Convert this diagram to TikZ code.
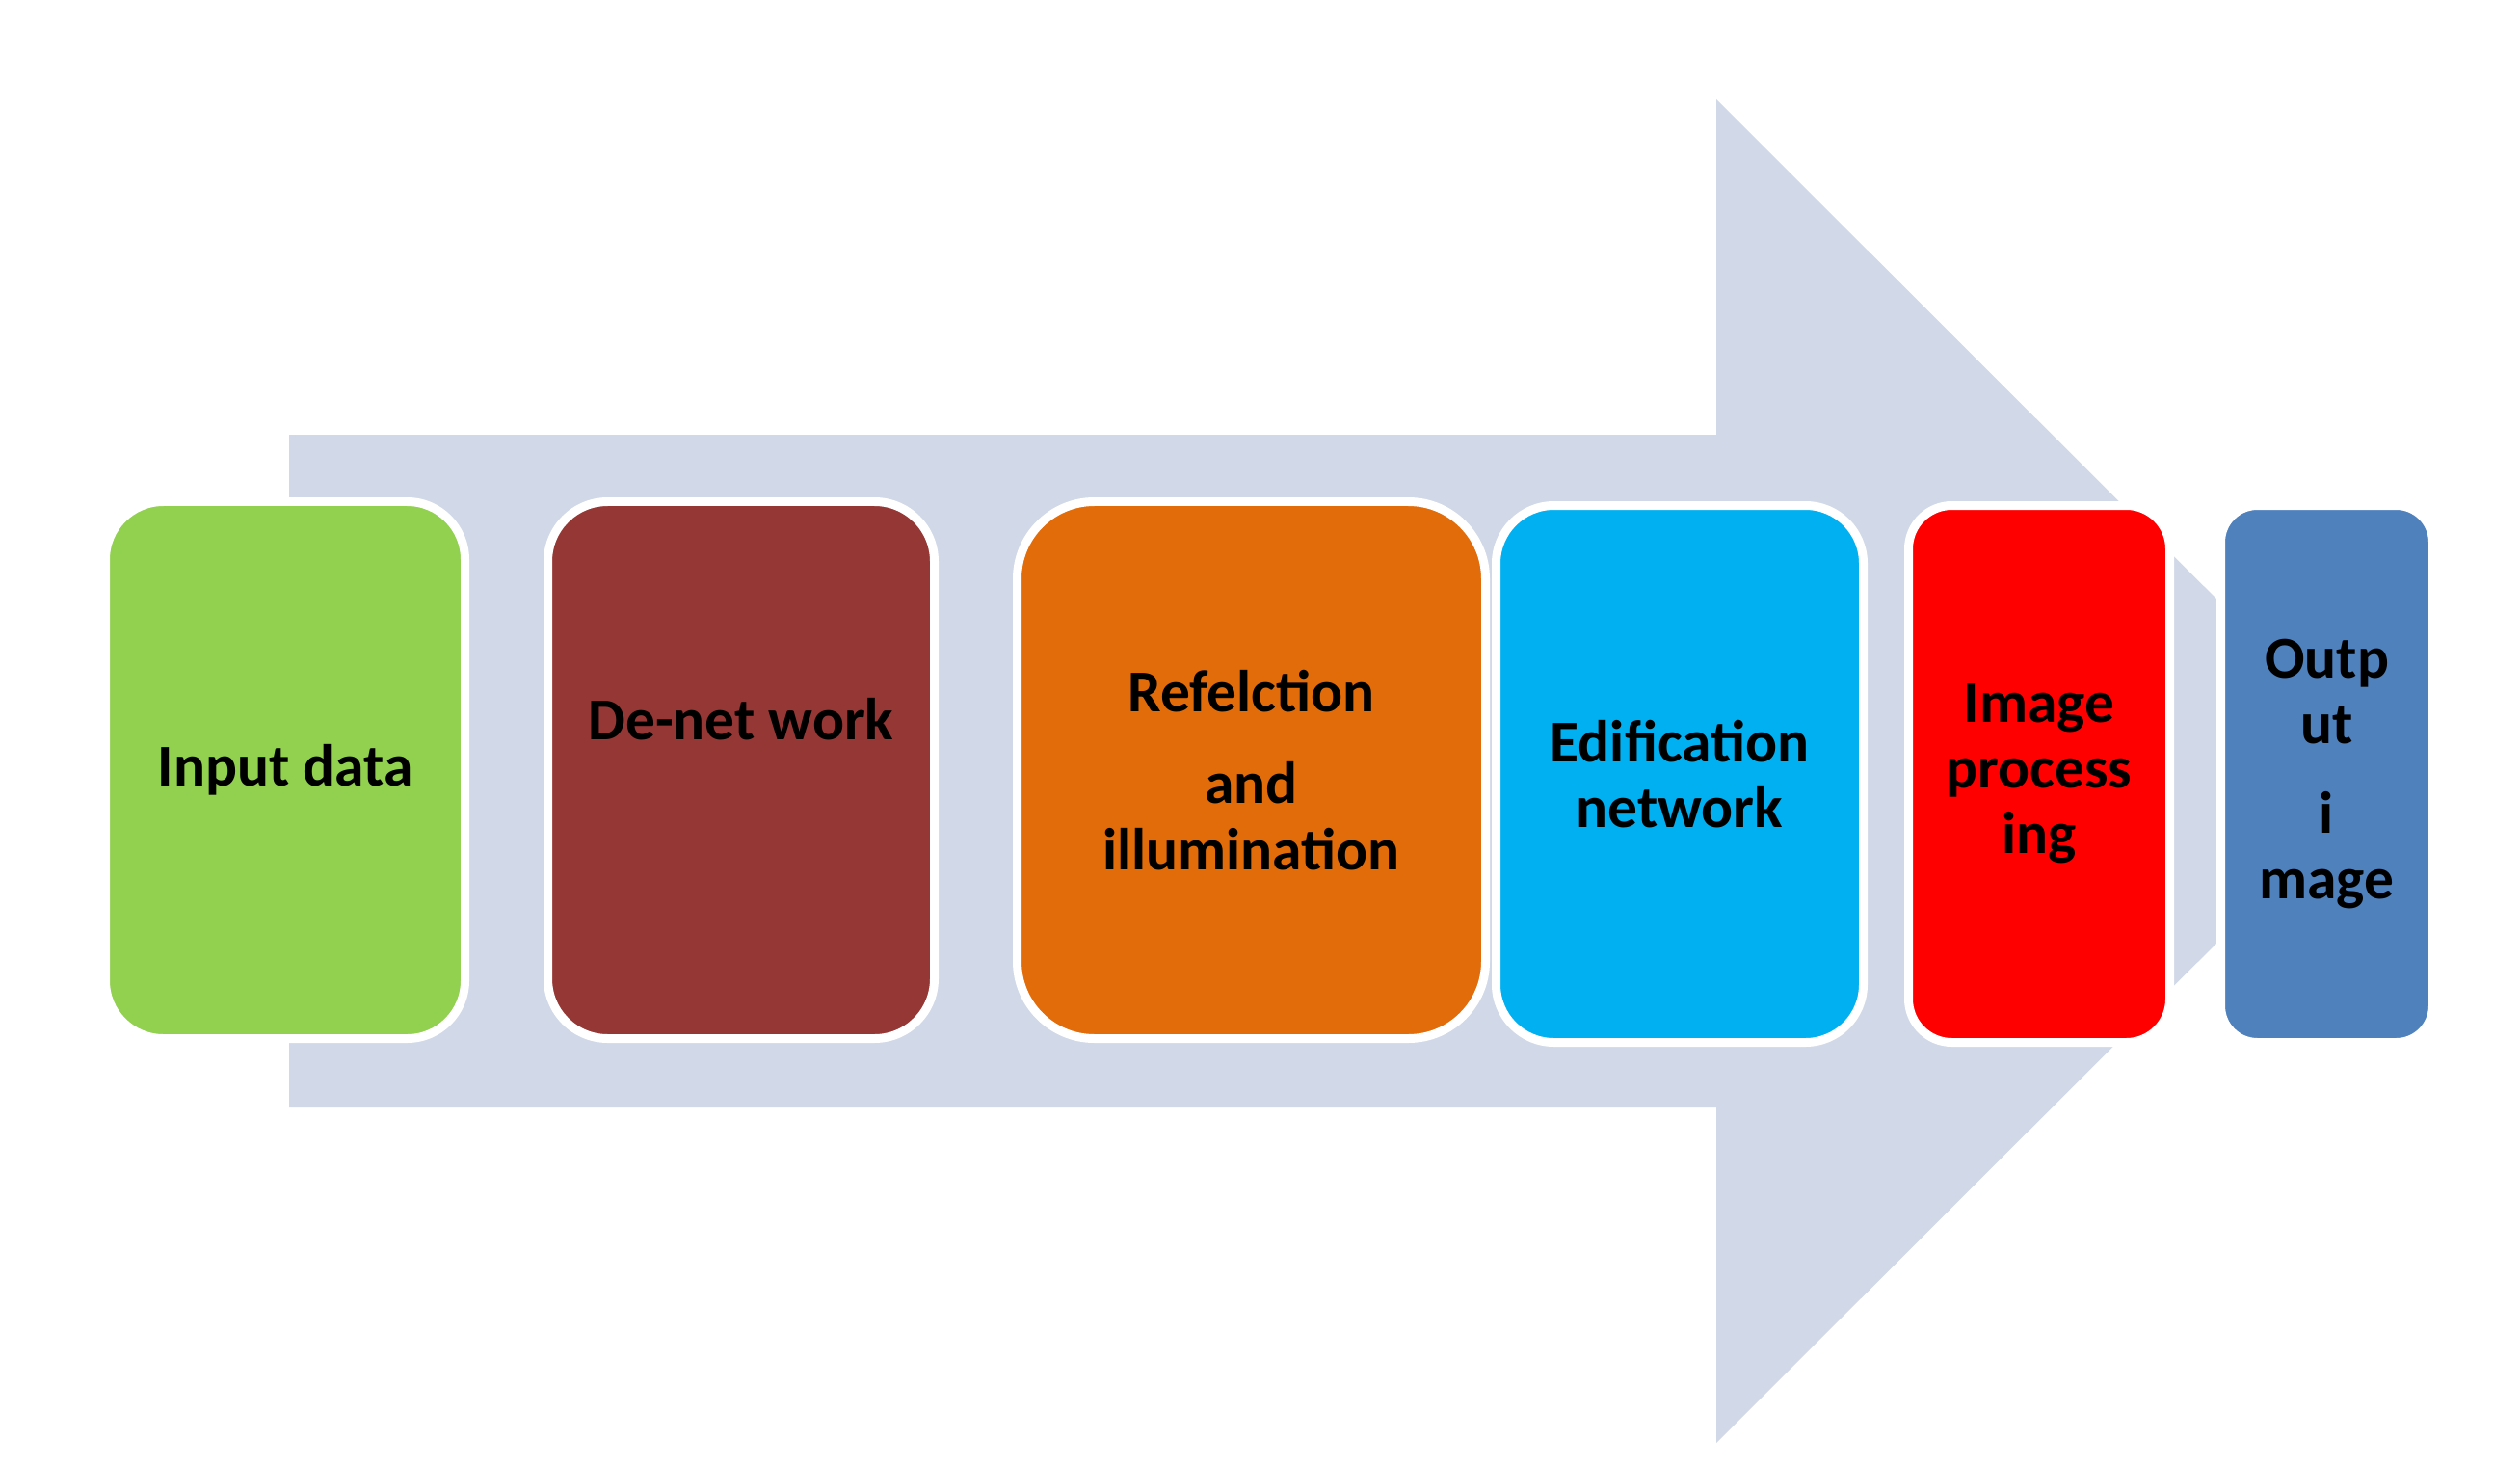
\documentclass[tikz,border=0pt]{standalone}
\usepackage{fontspec}
\setmainfont{Carlito}
\usepackage{xcolor}
\definecolor{arrowgray}{HTML}{D1D8E7}
\definecolor{inputgreen}{HTML}{92D050}
\definecolor{denetbrown}{HTML}{953735}
\definecolor{reflorange}{HTML}{E36C0A}
\definecolor{edifcyan}{HTML}{00B0F0}
\definecolor{procred}{HTML}{FF0000}
\definecolor{outblue}{HTML}{4F81BD}

\begin{document}
\begin{tikzpicture}[transform shape,
	stage/.style={rectangle, draw=white, line width=0.09cm, minimum height=5.57cm, inner sep=0pt, align=center, text=black, font=\fontsize{17.5}{19.4}\selectfont\bfseries}]
	% Background arrow and stages:
	\fill[white] (0, 0) rectangle (26.15, 15.2);
	\useasboundingbox (0, 0) rectangle (26.15, 15.2);
	\fill[arrowgray] (3, 10.69) -- (17.81, 10.69) -- (17.81, 14.17) -- (24.79, 7.2) -- (17.81, 0.23) -- (17.81, 3.71) -- (3, 3.71) -- cycle;
	\node[stage, fill=inputgreen, minimum width=3.73cm, rounded corners=0.6cm] (input) at (2.96, 7.21){Input data};
	\node[stage, fill=denetbrown, minimum width=4.01cm, rounded corners=0.62cm, text depth=1.06cm] (denet) at (7.69, 7.21){De-net work};
	\node[stage, fill=reflorange, minimum width=4.86cm, rounded corners=0.8cm] (refl) at (12.985, 7.21){Refelction\\[0.27cm] and\\ illumination};
	\node[stage, fill=edifcyan, minimum width=3.81cm, rounded corners=0.6cm] (edif) at (17.43, 7.17){Edification\\ network};
	\node[stage, fill=procred, minimum width=2.71cm, rounded corners=0.45cm] (proc) at (21.16, 7.17){Image\\ process\\ ing};
	\node[stage, fill=outblue, minimum width=2.2cm, rounded corners=0.38cm] (output) at (24.145, 7.17){Outp\\ ut\\[0.24cm] i\\ mage};
\end{tikzpicture}
\end{document}
